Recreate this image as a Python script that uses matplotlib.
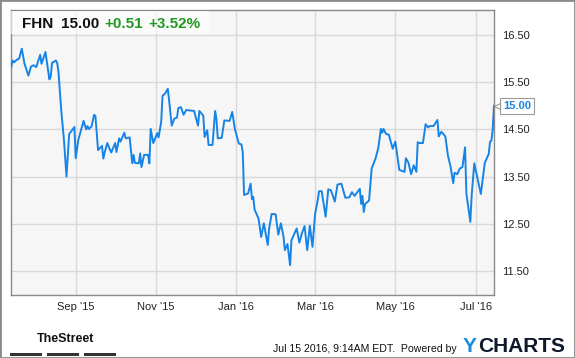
import matplotlib
matplotlib.use('Agg')
import matplotlib.pyplot as plt
import pandas as pd
from matplotlib.patches import Rectangle

plt.rcParams['font.family'] = ['Liberation Sans', 'DejaVu Sans']

ticker = "FHN"
last_price_text = "15.00"
change = "+0.51"
change_pct = "+3.52%"
timestamp = "Jul 15 2016, 9:14AM EDT.  Powered by"

dates = [
    "2015-07-14", "2015-07-15", "2015-07-16", "2015-07-18", "2015-07-20", "2015-07-22",
    "2015-07-24", "2015-07-27", "2015-07-29", "2015-07-31", "2015-08-02", "2015-08-05",
    "2015-08-06", "2015-08-09", "2015-08-12", "2015-08-13", "2015-08-14", "2015-08-17",
    "2015-08-18", "2015-08-19", "2015-08-21", "2015-08-23", "2015-08-25", "2015-08-27",
    "2015-08-31", "2015-09-01", "2015-09-03", "2015-09-07", "2015-09-09", "2015-09-10",
    "2015-09-11", "2015-09-13", "2015-09-15", "2015-09-16", "2015-09-18", "2015-09-21",
    "2015-09-22", "2015-09-23", "2015-09-25", "2015-09-28", "2015-10-01", "2015-10-02",
    "2015-10-04", "2015-10-05", "2015-10-08", "2015-10-09", "2015-10-12", "2015-10-14",
    "2015-10-15", "2015-10-16", "2015-10-19", "2015-10-20", "2015-10-21", "2015-10-23",
    "2015-10-26", "2015-10-27", "2015-10-28", "2015-10-30", "2015-11-02", "2015-11-03",
    "2015-11-05", "2015-11-06", "2015-11-08", "2015-11-10", "2015-11-11", "2015-11-13",
    "2015-11-15", "2015-11-17", "2015-11-18", "2015-11-20", "2015-11-22", "2015-11-24",
    "2015-11-30", "2015-12-03", "2015-12-04", "2015-12-07", "2015-12-08", "2015-12-10",
    "2015-12-11", "2015-12-14", "2015-12-16", "2015-12-17", "2015-12-18", "2015-12-21",
    "2015-12-23", "2015-12-27", "2015-12-29", "2015-12-31", "2016-01-03", "2016-01-05",
    "2016-01-06", "2016-01-07", "2016-01-10", "2016-01-12", "2016-01-13", "2016-01-14",
    "2016-01-15", "2016-01-18", "2016-01-20", "2016-01-22", "2016-01-25", "2016-01-26",
    "2016-01-28", "2016-01-31", "2016-02-02", "2016-02-04", "2016-02-06", "2016-02-07",
    "2016-02-09", "2016-02-11", "2016-02-12", "2016-02-16", "2016-02-18", "2016-02-20",
    "2016-02-22", "2016-02-24", "2016-02-26", "2016-02-28", "2016-03-01", "2016-03-03",
    "2016-03-04", "2016-03-06", "2016-03-09", "2016-03-11", "2016-03-13", "2016-03-16",
    "2016-03-18", "2016-03-21", "2016-03-24", "2016-03-27", "2016-03-29", "2016-03-31",
    "2016-04-04", "2016-04-05", "2016-04-06", "2016-04-07", "2016-04-08", "2016-04-11",
    "2016-04-13", "2016-04-16", "2016-04-18", "2016-04-20", "2016-04-21", "2016-04-22",
    "2016-04-24", "2016-04-26", "2016-04-29", "2016-05-01", "2016-05-04", "2016-05-06",
    "2016-05-08", "2016-05-09", "2016-05-11", "2016-05-13", "2016-05-15", "2016-05-17",
    "2016-05-18", "2016-05-19", "2016-05-22", "2016-05-24", "2016-05-26", "2016-05-27",
    "2016-05-30", "2016-06-02", "2016-06-03", "2016-06-05", "2016-06-08", "2016-06-10",
    "2016-06-12", "2016-06-14", "2016-06-15", "2016-06-17", "2016-06-19", "2016-06-21",
    "2016-06-23", "2016-06-24", "2016-06-27", "2016-06-28", "2016-06-30", "2016-07-05",
    "2016-07-08", "2016-07-11", "2016-07-12", "2016-07-13", "2016-07-14", "2016-07-15",
]

prices = [
    15.82, 15.96, 15.92, 15.97, 16.00, 16.21,
    15.90, 15.64, 15.83, 15.86, 15.82, 16.08,
    15.89, 16.14, 15.56, 15.62, 15.91, 15.96,
    15.90, 15.69, 14.90, 14.30, 13.50, 14.40,
    14.55, 13.89, 14.28, 14.68, 14.50, 14.57,
    14.51, 14.56, 14.81, 14.78, 14.06, 14.15,
    13.88, 14.01, 14.21, 14.01, 14.21, 14.02,
    14.31, 14.24, 14.43, 14.31, 14.33, 13.78,
    13.96, 13.79, 13.78, 13.99, 13.70, 13.96,
    13.96, 13.78, 14.51, 14.21, 14.42, 14.33,
    14.66, 15.21, 15.26, 15.36, 15.12, 14.58,
    14.73, 14.75, 14.95, 14.97, 14.81, 14.91,
    14.89, 14.58, 14.89, 14.79, 14.34, 14.48,
    14.17, 14.17, 14.89, 14.72, 14.31, 14.32,
    14.69, 14.68, 14.87, 14.51, 14.20, 14.18,
    14.02, 13.11, 13.14, 13.35, 13.02, 13.07,
    12.80, 12.61, 12.22, 12.51, 12.05, 12.39,
    12.71, 12.70, 12.27, 12.51, 12.22, 11.94,
    12.07, 11.62, 12.15, 12.40, 12.10, 12.30,
    12.45, 11.94, 12.46, 12.01, 12.71, 13.00,
    13.19, 13.19, 12.65, 13.23, 13.21, 12.97,
    13.33, 13.35, 13.05, 13.06, 13.17, 13.09,
    13.24, 12.92, 13.09, 12.75, 12.92, 12.99,
    13.67, 13.89, 14.10, 14.51, 14.43, 14.51,
    14.40, 14.39, 14.09, 14.24, 13.64, 13.62,
    13.60, 13.89, 13.79, 13.55, 13.74, 13.60,
    14.23, 14.21, 14.21, 14.61, 14.54, 14.57,
    14.57, 14.70, 14.35, 14.45, 14.35, 13.94,
    13.71, 13.36, 13.58, 13.55, 13.67, 13.70,
    14.12, 13.14, 12.54, 13.09, 13.78, 13.13,
    13.79, 13.98, 14.24, 14.26, 14.49, 15.00,
]

y_ticks = [11.5, 12.5, 13.5, 14.5, 15.5, 16.5]
y_labels = ["11.50", "12.50", "13.50", "14.50", "15.50", "16.50"]
x_ticks = ["2015-09-01", "2015-11-01", "2016-01-01", "2016-03-01", "2016-05-01", "2016-07-01"]
x_labels = ["Sep '15", "Nov '15", "Jan '16", "Mar '16", "May '16", "Jul '16"]

W, H = 575, 358
fig = plt.figure(figsize=(W / 100, H / 100), dpi=100)
fig.patch.set_facecolor('white')

ax = fig.add_axes([10.7 / W, 1 - 295 / H, (494 - 10.7) / W, (295 - 10) / H])
ax.set_facecolor('#f6f6f6')

d = pd.to_datetime(dates)
line_color = '#1684e6'
ax.plot(d, prices, color=line_color, lw=1.4, solid_joinstyle='round', zorder=3)

ax.set_xlim(pd.Timestamp('2015-07-13 14:00'), pd.Timestamp('2016-07-15 00:00'))
ax.set_ylim(10.99, 17.03)

ax.set_xticks(pd.to_datetime(x_ticks))
ax.set_xticklabels(x_labels)
ax.set_yticks(y_ticks)
ax.set_yticklabels(y_labels)
ax.yaxis.tick_right()
ax.tick_params(axis='x', length=0, pad=5, labelsize=8, labelcolor='#222222')
ax.tick_params(axis='y', length=0, pad=6, labelsize=8, labelcolor='#222222')
ax.grid(True, color='#d9d9d9', lw=1)
ax.set_axisbelow(True)
for s in ax.spines.values():
    s.set_color('#8a8a8a')
    s.set_linewidth(1)

# last price tag
ax.annotate(last_price_text, xy=(d[-1], prices[-1]), xytext=(6.3, 0),
            textcoords='offset points', ha='left', va='center',
            fontsize=8, fontweight='bold', color=line_color,
            bbox=dict(boxstyle='square,pad=0.28', fc='white', ec='#9a9a9a', lw=0.8),
            annotation_clip=False, zorder=6)
ax.plot([d[-1]], [prices[-1]], marker='<', ms=5, mfc='white', mec='#9a9a9a', mew=0.8,
        clip_on=False, zorder=7,
        transform=ax.transData + matplotlib.transforms.ScaledTranslation(2.6 / 100, 0, fig.dpi_scale_trans))

# header band
fig.patches.append(Rectangle((11.2 / W, 1 - 34 / H), (209 - 11.2) / W, (34 - 10.8) / H,
                             transform=fig.transFigure, fc='white', alpha=0.6, ec='none', zorder=2))
hy = 1 - 23.8 / H
fig.text(21.7 / W, hy, ticker, fontsize=11, fontweight='bold', color='#111111', va='center', zorder=5)
fig.text(61 / W, hy, last_price_text, fontsize=11, fontweight='bold', color='#111111', va='center', zorder=5)
fig.text(104 / W, hy, change, fontsize=11, fontweight='bold', color='#1e9a1e', va='center', zorder=5)
fig.text(148 / W, hy, change_pct, fontsize=11, fontweight='bold', color='#1e9a1e', va='center', zorder=5)

# footer
fig.text(36.7 / W, 1 - 338.5 / H, 'TheStreet', fontsize=9, fontweight='bold', color='#111111',
         va='center', ha='left')
for x0 in (10.3, 46.9, 83.6):
    fig.patches.append(Rectangle((x0 / W, 1 - 355.5 / H), 32 / W, 3 / H,
                                 transform=fig.transFigure, fc='#333333', ec='none'))
fig.text(273 / W, 1 - 349.5 / H, timestamp, fontsize=7.6, color='#111111', va='center', ha='left')
fig.text(463 / W, 1 - 346 / H, 'Y', fontsize=15, fontweight='bold', color='#1a8cd8', va='center', ha='left')
fig.text(478 / W, 1 - 346 / H, 'CHARTS', fontsize=15, fontweight='bold', color='#0e1a2b', va='center', ha='left')

# outer frame
fig.patches.append(Rectangle((0, 0), 1, 1, transform=fig.transFigure, fill=False, ec='#8a8a8a', lw=2))

fig.savefig('out.png', dpi=100)
